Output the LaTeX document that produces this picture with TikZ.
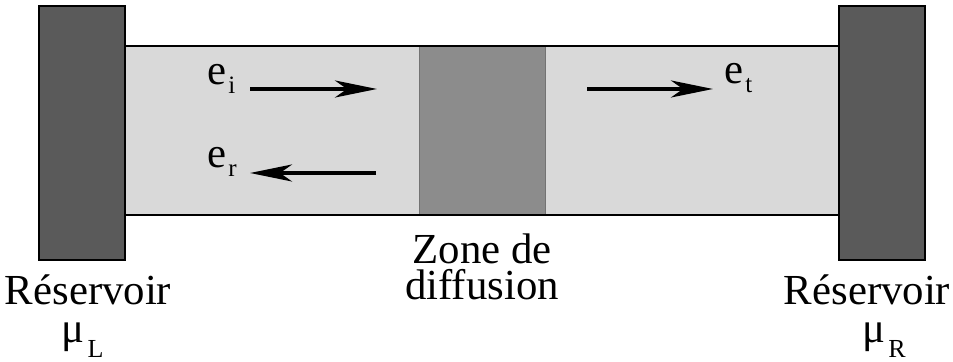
\documentclass[tikz,border=0pt]{standalone}
\usepackage{fontspec}
\setmainfont{Liberation Serif}
\usetikzlibrary{arrows.meta}
\definecolor{resgray}{RGB}{90,90,90}
\definecolor{tubegray}{RGB}{217,217,217}
\definecolor{zonegray}{RGB}{140,140,140}
\tikzset{res/.append style={draw,line width=1pt,fill=resgray,minimum width=43pt,minimum height=127pt,inner sep=0pt}}
\tikzset{zn/.append style={draw=black!55,line width=0.5pt,fill=zonegray,minimum width=63pt,minimum height=84.5pt,inner sep=0pt}}
\tikzset{txt/.append style={inner sep=0pt,font=\fontsize{21.4}{18}\selectfont}}
\tikzset{ar/.append style={line width=2pt,-{Stealth[length=21pt,width=8.5pt,inset=6pt]}}}
% wave label with small lowered index
\newcommand{\wv}[1]{e\kern1pt\raisebox{-4.5pt}{\fontsize{12.5}{12.5}\selectfont #1}}
% chemical potential of a reservoir
\newcommand{\mup}[1]{μ\kern1.5pt\raisebox{-7.5pt}{\fontsize{13}{13}\selectfont #1}}
\begin{document}
\begin{tikzpicture}[x=0.5pt,y=-0.5pt]
                \useasboundingbox (0,0) rectangle (953,362);
                % tube and diffusion zone
                \fill[tubegray] (125,46) rectangle (840,215);
                \node[zn] (zone) at (482,130.5) {};
                \draw[line width=1.2pt] (125,46) -- (840,46);
                \draw[line width=1.2pt] (125,215) -- (840,215);
                % reservoirs
                \node[res] (resL) at (82,133) {};
                \node[res] (resR) at (882,133) {};
                % labels
                \node[txt,anchor=base] (tL) at (88,305) {Réservoir};
                \node[txt,anchor=base] (mL) at (82.5,343) {\mup{L}};
                \node[txt,anchor=base] (tR) at (867,305) {Réservoir};
                \node[txt,anchor=base] (mR) at (884,343) {\mup{R}};
                \node[txt,anchor=north,align=center] (zd) at (482,233) {Zone de\\diffusion};
                \node[txt,anchor=base west] (ei) at (207,85) {\wv{i}};
                \node[txt,anchor=base west] (er) at (207,168) {\wv{r}};
                \node[txt,anchor=base west] (et) at (724,84) {\wv{t}};
                % waves
                \coordinate (ia) at (250,89);
                \coordinate (ib) at (377,89);
                \coordinate (ra) at (376,173);
                \coordinate (rb) at (250,173);
                \coordinate (ta) at (587,89);
                \coordinate (tb) at (713,89);
                \draw[ar] (ia) -- (ib);
                \draw[ar] (ra) -- (rb);
                \draw[ar] (ta) -- (tb);
            \end{tikzpicture}
\end{document}
